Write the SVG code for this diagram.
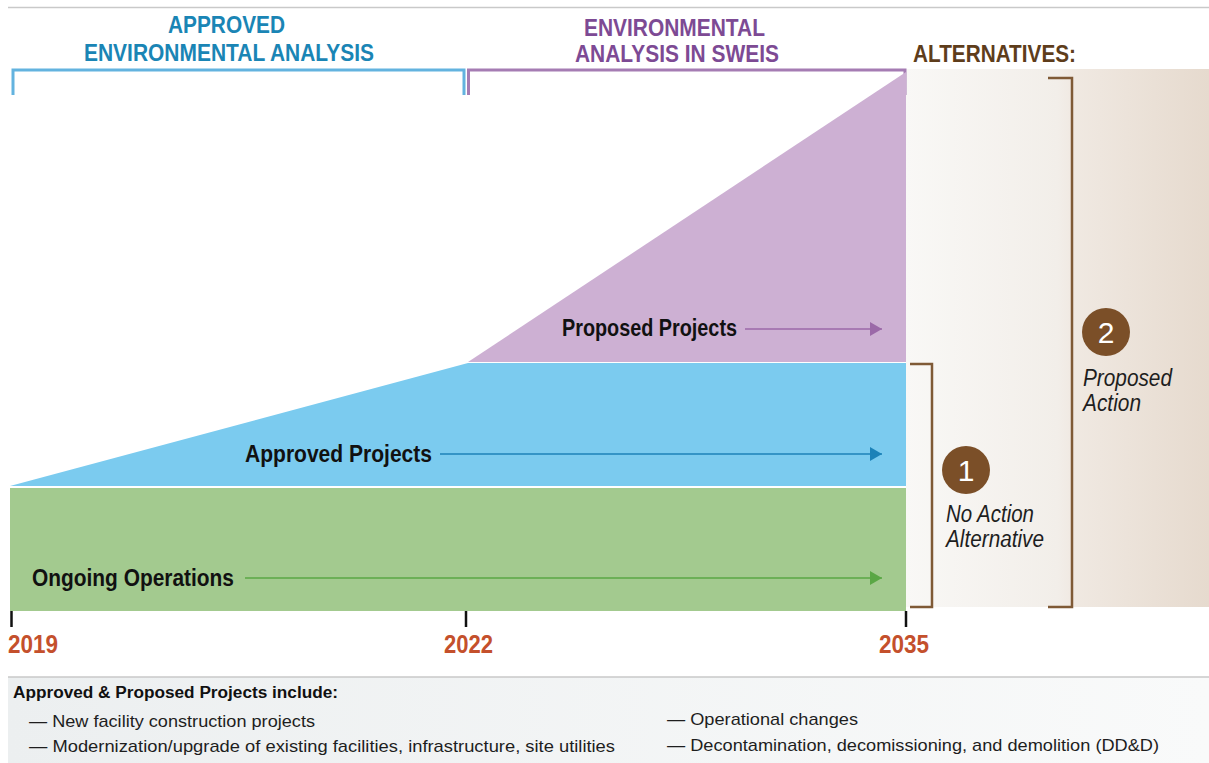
<svg xmlns="http://www.w3.org/2000/svg" width="1209" height="763" viewBox="0 0 1209 763">
  <defs>
    <linearGradient id="altBg" x1="0" y1="0" x2="1" y2="0">
      <stop offset="0" stop-color="#f9f8f6"/>
      <stop offset="0.5" stop-color="#f2eee9"/>
      <stop offset="0.55" stop-color="#f0e9e2"/>
      <stop offset="1" stop-color="#e6dace"/>
    </linearGradient>
    <linearGradient id="footBg" x1="0" y1="0" x2="1" y2="0">
      <stop offset="0" stop-color="#eceff0"/>
      <stop offset="1" stop-color="#f9fafa"/>
    </linearGradient>
    <marker id="arrPurple" viewBox="0 0 12 14" refX="12" refY="7" markerWidth="12" markerHeight="14" markerUnits="userSpaceOnUse" orient="auto">
      <path d="M0,0 L12,7 L0,14 Z" fill="#9b69a8"/>
    </marker>
    <marker id="arrBlue" viewBox="0 0 12 14" refX="12" refY="7" markerWidth="12" markerHeight="14" markerUnits="userSpaceOnUse" orient="auto">
      <path d="M0,0 L12,7 L0,14 Z" fill="#1c82b8"/>
    </marker>
    <marker id="arrGreen" viewBox="0 0 12 14" refX="12" refY="7" markerWidth="12" markerHeight="14" markerUnits="userSpaceOnUse" orient="auto">
      <path d="M0,0 L12,7 L0,14 Z" fill="#5aa745"/>
    </marker>
    <style>
      .hd { font-family: "Liberation Sans", Arial, sans-serif; font-weight: bold; font-size: 23px; }
      .lbl { font-family: "Liberation Sans", Arial, sans-serif; font-weight: bold; font-size: 23px; fill: #111; }
      .yr { font-family: "Liberation Sans", Arial, sans-serif; font-weight: bold; font-size: 26px; fill: #c4502c; }
      .it { font-family: "Liberation Sans", Arial, sans-serif; font-style: italic; font-size: 23px; fill: #1e1e1e; }
      .num { font-family: "Liberation Sans", Arial, sans-serif; font-size: 30px; fill: #ffffff; text-anchor: middle; }
      .ft { font-family: "Liberation Sans", Arial, sans-serif; font-size: 17px; fill: #1e1e1e; }
      .fth { font-family: "Liberation Sans", Arial, sans-serif; font-size: 16px; font-weight: bold; fill: #111; }
      .brk { fill: none; stroke: #7f5a36; stroke-width: 2.5; }
      .tick { stroke: #111; stroke-width: 2.5; }
    </style>
  </defs>

  <rect width="1209" height="763" fill="#ffffff"/>

  <!-- top rule -->
  <line x1="8" y1="7.5" x2="1209" y2="7.5" stroke="#c9c9c9" stroke-width="1.5"/>

  <!-- alternatives background panel -->
  <rect id="alt-panel" x="906" y="69" width="303" height="538" fill="url(#altBg)"/>

  <!-- header: approved -->
  <g id="hdr-approved">
    <text class="hd" fill="#1a85b5" x="168" y="33" textLength="117" lengthAdjust="spacingAndGlyphs">APPROVED</text>
    <text class="hd" fill="#1a85b5" x="84" y="61" textLength="290" lengthAdjust="spacingAndGlyphs">ENVIRONMENTAL ANALYSIS</text>
    <path d="M13,95 V70 H464 V95" fill="none" stroke="#63b3df" stroke-width="3"/>
  </g>

  <!-- header: SWEIS -->
  <g id="hdr-sweis">
    <text class="hd" fill="#7d4a94" x="584" y="36" textLength="181" lengthAdjust="spacingAndGlyphs">ENVIRONMENTAL</text>
    <text class="hd" fill="#7d4a94" x="575" y="62" textLength="204" lengthAdjust="spacingAndGlyphs">ANALYSIS IN SWEIS</text>
    <path d="M468.5,95 V70 H905 V95" fill="none" stroke="#a57cb3" stroke-width="3"/>
  </g>

  <!-- header: alternatives -->
  <g id="hdr-alternatives">
    <text class="hd" fill="#5e3d1b" x="913" y="62" textLength="163" lengthAdjust="spacingAndGlyphs">ALTERNATIVES:</text>
  </g>

  <!-- bands -->
  <g id="band-proposed">
    <polygon points="468,362 906,72 906,362" fill="#cdb0d3"/>
    <text class="lbl" x="562" y="336" textLength="175" lengthAdjust="spacingAndGlyphs">Proposed Projects</text>
  </g>
  <g id="band-approved">
    <polygon points="10,486 468,363 906,363 906,486" fill="#7bcbef"/>
    <text class="lbl" x="245" y="462" textLength="187" lengthAdjust="spacingAndGlyphs">Approved Projects</text>
  </g>
  <g id="band-ongoing">
    <rect x="10" y="488" width="896" height="123" fill="#a3ca8f"/>
    <text class="lbl" x="32" y="586" textLength="202" lengthAdjust="spacingAndGlyphs">Ongoing Operations</text>
  </g>

  <!-- connectors -->
  <g id="connectors">
    <line x1="745" y1="329" x2="882" y2="329" stroke="#9b69a8" stroke-width="1.3" marker-end="url(#arrPurple)"/>
    <line x1="440" y1="454" x2="882" y2="454" stroke="#1c82b8" stroke-width="1.3" marker-end="url(#arrBlue)"/>
    <line x1="245" y1="578" x2="882" y2="578" stroke="#5aa745" stroke-width="1.3" marker-end="url(#arrGreen)"/>
  </g>

  <!-- timeline axis -->
  <g id="axis">
    <line class="tick" x1="11.5" y1="611" x2="11.5" y2="627"/>
    <line class="tick" x1="466" y1="611" x2="466" y2="627"/>
    <line class="tick" x1="906" y1="611" x2="906" y2="627"/>
    <text class="yr" x="8" y="653" textLength="50" lengthAdjust="spacingAndGlyphs">2019</text>
    <text class="yr" x="444" y="653" textLength="49" lengthAdjust="spacingAndGlyphs">2022</text>
    <text class="yr" x="879" y="653" textLength="50" lengthAdjust="spacingAndGlyphs">2035</text>
  </g>

  <!-- alternative 1 -->
  <g id="alt-no-action">
    <path class="brk" d="M910,364 H932 V607 H910"/>
    <circle cx="966" cy="470" r="24" fill="#7b4f28"/>
    <text class="num" x="966" y="481">1</text>
    <text class="it" x="946" y="522" textLength="88" lengthAdjust="spacingAndGlyphs">No Action</text>
    <text class="it" x="946" y="547" textLength="98" lengthAdjust="spacingAndGlyphs">Alternative</text>
  </g>

  <!-- alternative 2 -->
  <g id="alt-proposed-action">
    <path class="brk" d="M1048,78 H1072 V607 H1048"/>
    <circle cx="1106" cy="332" r="24" fill="#7b4f28"/>
    <text class="num" x="1106" y="343">2</text>
    <text class="it" x="1083" y="386" textLength="89" lengthAdjust="spacingAndGlyphs">Proposed</text>
    <text class="it" x="1083" y="411" textLength="58" lengthAdjust="spacingAndGlyphs">Action</text>
  </g>

  <!-- footer -->
  <g id="footer">
    <rect x="8" y="677" width="1201" height="86" fill="url(#footBg)"/>
    <line x1="8" y1="677" x2="1209" y2="677" stroke="#c8c8c8" stroke-width="1.5"/>
    <text class="fth" x="13" y="698" textLength="325" lengthAdjust="spacingAndGlyphs">Approved &amp; Proposed Projects include:</text>
    <text class="ft" x="29" y="727" textLength="286" lengthAdjust="spacingAndGlyphs">— New facility construction projects</text>
    <text class="ft" x="29" y="752" textLength="586" lengthAdjust="spacingAndGlyphs">— Modernization/upgrade of existing facilities, infrastructure, site utilities</text>
    <text class="ft" x="667" y="725" textLength="191" lengthAdjust="spacingAndGlyphs">— Operational changes</text>
    <text class="ft" x="667" y="751" textLength="492" lengthAdjust="spacingAndGlyphs">— Decontamination, decomissioning, and demolition (DD&amp;D)</text>
  </g>
</svg>
